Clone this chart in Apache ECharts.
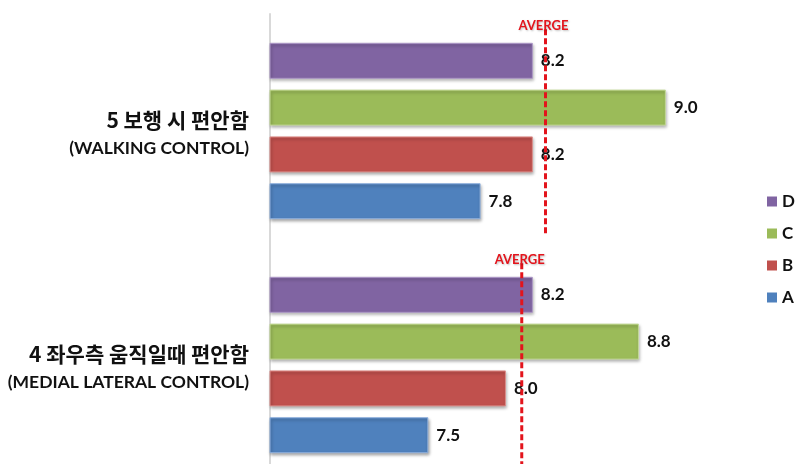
<!DOCTYPE html>
<html>
<head>
<meta charset="utf-8">
<script src="https://cdn.jsdelivr.net/npm/echarts@6/dist/echarts.min.js"></script>
<style>html,body{margin:0;padding:0;background:#fff;}#c{width:809px;height:464px;}</style>
</head>
<body>
<div id="c"></div>
<script>
const categories = ['4 좌우측 움직일때 편안함\n(MEDIAL LATERAL CONTROL)', '5 보행 시 편안함\n(WALKING CONTROL)'];
const seriesNames = ['D', 'C', 'B', 'A'];
const valuesA = [7.5, 7.83];
const valuesB = [7.99, 8.16];
const valuesC = [8.83, 9.0];
const valuesD = [8.16, 8.16];
const averages = [8.09, 8.24];
const averageLabel = 'AVERGE';

const colors = { A: '#4F81BD', B: '#C0504D', C: '#9BBB59', D: '#8064A2' };
const borders = { A: '#8fb0dd', B: '#dd8e8b', C: '#c4da98', D: '#ad98c7' };
const dataMap = { A: valuesA, B: valuesB, C: valuesC, D: valuesD };
const FONT = 'Lato, "Noto Sans CJK KR", sans-serif';
const KFONT = '"Noto Sans CJK KR", Lato, sans-serif';

const chart = echarts.init(document.getElementById('c'));

const barSeries = seriesNames.map(n => ({
  name: n,
  type: 'bar',
  data: dataMap[n],
  barWidth: 36,
  barGap: '30%',
  itemStyle: {
    color: colors[n],
    borderColor: borders[n],
    borderWidth: 1,
    shadowColor: 'rgba(0,0,0,0.35)',
    shadowBlur: 3,
    shadowOffsetX: 1,
    shadowOffsetY: 2
  },
  label: {
    show: true,
    position: 'right',
    distance: 8,
    formatter: p => p.value.toFixed(1),
    color: '#111',
    fontWeight: 'bold',
    fontSize: 17,
    fontFamily: FONT
  },
  z: 2
}));

const avgSeries = {
  type: 'custom',
  data: averages.map((v, i) => [v, i]),
  encode: { x: 0, y: 1 },
  z: 5,
  silent: true,
  renderItem: function (params, api) {
    const c = api.coord([api.value(0), api.value(1)]);
    const band = api.size([0, 1])[1];
    const y0 = c[1] - band * 0.435;
    const y1 = c[1] + band * 0.445;
    return {
      type: 'group',
      children: [
        {
          type: 'line',
          shape: { x1: c[0], y1: y0, x2: c[0], y2: y1 },
          style: { stroke: '#e3141c', lineWidth: 3, lineDash: [6, 3] }
        },
        {
          type: 'text',
          x: c[0] - 2,
          y: y0 - 3,
          z2: 10,
          style: {
            text: averageLabel,
            fill: '#e3141c',
            font: 'bold 13px ' + FONT,
            align: 'center',
            verticalAlign: 'middle',
            textShadowColor: 'rgba(0,0,0,0.25)',
            textShadowBlur: 2,
            textShadowOffsetX: 1,
            textShadowOffsetY: 1
          }
        }
      ]
    };
  }
};

chart.setOption({
  animation: false,
  backgroundColor: '#fff',
  grid: { left: 270, right: 64, top: 14, height: 468, outerBoundsMode: 'none' },
  legend: {
    orient: 'vertical',
    left: 762,
    top: 188,
    data: ['D', 'C', 'B', 'A'],
    itemWidth: 10,
    itemHeight: 10,
    itemGap: 15,
    icon: 'rect',
    itemStyle: { borderWidth: 0, shadowBlur: 0, shadowOffsetX: 0, shadowOffsetY: 0 },
    textStyle: { fontSize: 17, fontWeight: 'bold', color: '#111', fontFamily: FONT }
  },
  xAxis: {
    type: 'value',
    min: 6.5,
    max: 9.5,
    show: false
  },
  yAxis: {
    type: 'category',
    data: categories,
    axisLine: { show: true, lineStyle: { color: '#d9d9d9', width: 2 } },
    axisTick: { show: false },
    axisLabel: {
      margin: 21,
      color: '#111',
      align: 'right',
      padding: [7, 0, 0, 0],
      formatter: function (v) {
        const parts = v.split('\n');
        return '{k|' + parts[0] + '}\n{e|' + parts[1] + '}';
      },
      rich: {
        k: { fontSize: 21, fontWeight: 'bold', fontFamily: KFONT, lineHeight: 28, color: '#111', align: 'right' },
        e: { fontSize: 17.5, fontWeight: 'bold', fontFamily: FONT, lineHeight: 28, color: '#111', align: 'right' }
      }
    }
  },
  series: barSeries.concat([avgSeries])
});
</script>
</body>
</html>
